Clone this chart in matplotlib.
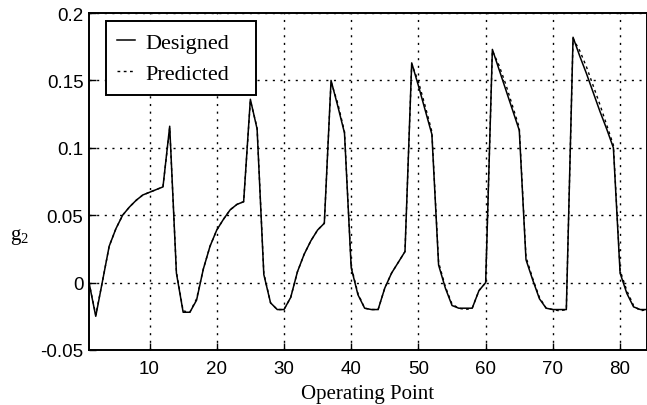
import matplotlib
matplotlib.use("Agg")
import matplotlib.pyplot as plt

############## Data ##############################################
operating_point = list(range(1, 85))

designed = [0.000, -0.025, 0.001, 0.027, 0.040, 0.050, 0.056, 0.061, 0.065, 0.067, 0.069, 0.071,
            0.116, 0.007, -0.022, -0.022, -0.013, 0.010, 0.027, 0.039, 0.047, 0.054, 0.058, 0.060,
            0.136, 0.114, 0.006, -0.015, -0.020, -0.020, -0.011, 0.008, 0.021, 0.031, 0.039, 0.044,
            0.150, 0.131, 0.111, 0.011, -0.009, -0.019, -0.020, -0.020, -0.004, 0.007, 0.015, 0.023,
            0.163, 0.146, 0.128, 0.110, 0.013, -0.004, -0.017, -0.019, -0.019, -0.019, -0.006, 0.000,
            0.173, 0.158, 0.143, 0.128, 0.113, 0.017, 0.002, -0.012, -0.019, -0.020, -0.020, -0.020,
            0.182, 0.168, 0.155, 0.141, 0.127, 0.114, 0.100, 0.007, -0.008, -0.018, -0.020, -0.020]

predicted = [0.000, -0.024, 0.001, 0.027, 0.040, 0.050, 0.056, 0.061, 0.065, 0.067, 0.069, 0.071,
             0.115, 0.008, -0.021, -0.022, -0.012, 0.010, 0.027, 0.039, 0.047, 0.054, 0.058, 0.060,
             0.135, 0.115, 0.007, -0.015, -0.020, -0.020, -0.011, 0.008, 0.021, 0.031, 0.039, 0.044,
             0.149, 0.133, 0.112, 0.012, -0.008, -0.019, -0.020, -0.020, -0.004, 0.007, 0.015, 0.023,
             0.162, 0.149, 0.131, 0.112, 0.015, -0.003, -0.016, -0.019, -0.020, -0.019, -0.006, 0.000,
             0.172, 0.161, 0.147, 0.131, 0.115, 0.019, 0.003, -0.011, -0.019, -0.020, -0.021, -0.020,
             0.181, 0.172, 0.160, 0.146, 0.132, 0.117, 0.102, 0.009, -0.006, -0.017, -0.021, -0.020]

x_ticks = [10, 20, 30, 40, 50, 60, 70, 80]
y_ticks = [-0.05, 0, 0.05, 0.1, 0.15, 0.2]
y_tick_labels = ["-0.05", "0", "0.05", "0.1", "0.15", "0.2"]

############## Figure ##############################################
plt.rcParams['mathtext.fontset'] = 'custom'
plt.rcParams['mathtext.rm'] = 'Liberation Serif'

fig = plt.figure(figsize=(6.47, 4.06), dpi=100)
ax = fig.add_axes([0.1376, 0.1355, 0.8624, 0.83])

ax.plot(operating_point, designed, color='black', linewidth=1.1, label='Designed')
ax.plot(operating_point, predicted, color='black', linewidth=1.0,
        linestyle=(0, (2, 2.5)), label='Predicted')

ax.set_xlim(1, 84)
ax.set_ylim(-0.05, 0.2)
ax.set_xticks(x_ticks)
ax.set_yticks(y_ticks)
ax.set_yticklabels(y_tick_labels)
ax.tick_params(direction='in', length=5, width=1, labelsize=13.5)
for lab in ax.get_xticklabels() + ax.get_yticklabels():
    lab.set_family('Liberation Sans')
ax.tick_params(axis='x', pad=7)
ax.tick_params(axis='y', pad=4)

ax.grid(True, color='black', linestyle=(0, (1.5, 4)), linewidth=1.0)
for s in ax.spines.values():
    s.set_linewidth(1.4)

ax.set_xlabel('Operating Point', family='Liberation Serif', fontsize=15, labelpad=5)
ax.set_ylabel(r'$\mathrm{g}_{\mathrm{2}}$', fontsize=15, rotation=0)
ax.yaxis.set_label_coords(-0.125, 0.31)

leg = ax.legend(loc='upper left', bbox_to_anchor=(0.03, 0.765, 0.269, 0.21), mode='expand',
                borderaxespad=0, fancybox=False, edgecolor='black', framealpha=1,
                handlelength=0.8, handletextpad=0.5, labelspacing=0.45, borderpad=0.5,
                prop={'family': 'Liberation Serif', 'size': 16})
leg.get_frame().set_linewidth(1.4)

fig.savefig('out.png', dpi=100)
